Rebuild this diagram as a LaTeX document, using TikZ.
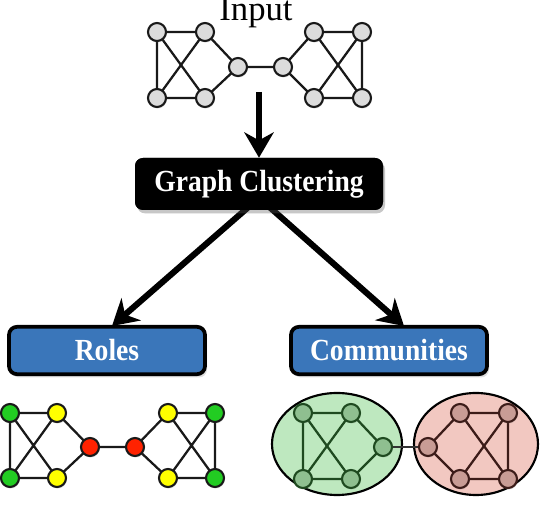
\documentclass[tikz,border=0pt]{standalone}
\usepackage{fontspec}
\setmainfont{Liberation Serif}
\newfontfamily\labelfont[FakeStretch=0.9]{Liberation Serif}
\usetikzlibrary{arrows.meta,shadows,shapes.geometric}
\definecolor{boxblue}{HTML}{3A76BA}
\definecolor{ingray}{HTML}{DCDCDC}
\definecolor{rgreen}{HTML}{22CC22}
\definecolor{ryellow}{HTML}{FFFF00}
\definecolor{rred}{HTML}{FF2200}
\definecolor{cgfill}{HTML}{BEE8BF}
\definecolor{cgnode}{HTML}{8FBF90}
\definecolor{cgedge}{HTML}{1F4A20}
\definecolor{crfill}{HTML}{F2C8C1}
\definecolor{crnode}{HTML}{C89C95}
\definecolor{credge}{HTML}{3C1C19}
\tikzset{
  vtx/.style={circle,draw=black!90,line width=1.6pt,minimum size=13.5pt,inner sep=0pt,
    drop shadow={shadow xshift=0.6pt,shadow yshift=-1.2pt,opacity=0.18}},
  gedge/.style={line width=1.7pt,draw=black!90},
  bigbox/.style={rounded corners=6pt,minimum width=186pt,minimum height=39pt,fill=black,
    text=white,font=\labelfont\fontsize{23}{26}\selectfont\bfseries,
    drop shadow={shadow xshift=1.5pt,shadow yshift=-2.5pt,opacity=0.25}},
  bluebox/.style={rounded corners=6pt,minimum width=147pt,minimum height=35.5pt,fill=boxblue,
    draw=black,line width=2.8pt,text=white,font=\labelfont\fontsize{23}{26}\selectfont\bfseries,
    drop shadow={shadow xshift=1.5pt,shadow yshift=-2.5pt,opacity=0.25}},
  bigarrow/.style={line width=4.6pt,-{Stealth[length=19pt,width=22pt,inset=6pt]}},
  cluster/.style={ellipse,draw=black,line width=1.6pt,inner sep=0pt}
}
\begin{document}
\begin{tikzpicture}[x=0.75pt,y=-0.75pt]
\useasboundingbox (0,0) rectangle (544,506);
% Input
\node[anchor=base,font=\fontsize{26}{28}\selectfont] (title) at (256,21) {Input};
\foreach \n/\x/\y in {a/157/32,b/205/32,c/157/98,d/205/98,e/238/67,f/283/67,g/314/32,h/362/32,i/314/98,j/362/98}
  \coordinate (ip\n) at (\x,\y);
\draw[gedge] (ipa)--(ipb) (ipc)--(ipd) (ipa)--(ipc) (ipa)--(ipd) (ipc)--(ipb) (ipb)--(ipe) (ipd)--(ipe) (ipe)--(ipf)
  (ipf)--(ipg) (ipf)--(ipi) (ipg)--(iph) (ipi)--(ipj) (iph)--(ipj) (ipg)--(ipj) (ipi)--(iph);
\foreach \n in {a,b,c,d,e,f,g,h,i,j} \node[vtx,fill=ingray] (in\n) at (ip\n) {};
% main box
\node[bigbox] (gc) at (259,184) {Graph Clustering};
\node[bluebox] (roles) at (107,350.5) {Roles};
\node[bluebox] (comm) at (389,350.5) {Communities};
\coordinate (inbottom) at (259,92);
\draw[bigarrow] (inbottom) -- (gc.north);
\coordinate (gcl) at (252,204);
\coordinate (gcr) at (266,204);
\coordinate (rtip) at (112,326);
\coordinate (ctip) at (404,326);
\draw[bigarrow] (gcl) -- (rtip);
\draw[bigarrow] (gcr) -- (ctip);
\node[bigbox] at (259,184) {Graph Clustering};
% Roles graph
\foreach \n/\x/\y in {a/10/413,b/57/413,c/10/478,d/57/478,e/90/447,f/135/447,g/168/413,h/215/413,i/168/478,j/215/478}
  \coordinate (rp\n) at (\x,\y);
\draw[gedge] (rpa)--(rpb) (rpc)--(rpd) (rpa)--(rpc) (rpa)--(rpd) (rpc)--(rpb) (rpb)--(rpe) (rpd)--(rpe) (rpe)--(rpf)
  (rpf)--(rpg) (rpf)--(rpi) (rpg)--(rph) (rpi)--(rpj) (rph)--(rpj) (rpg)--(rpj) (rpi)--(rph);
\foreach \n/\c in {a/rgreen,c/rgreen,h/rgreen,j/rgreen,b/ryellow,d/ryellow,g/ryellow,i/ryellow,e/rred,f/rred}
  \node[vtx,fill=\c] (rn\n) at (rp\n) {};
% Communities graph
\node[cluster,fill=cgfill,minimum width=97.5pt,minimum height=76.5pt] (green) at (337,444) {};
\node[cluster,fill=crfill,minimum width=93pt,minimum height=76.5pt] (red) at (476,444) {};
\foreach \n/\x/\y in {a/303/413,b/351/413,c/303/479,d/351/479,e/383/447,f/428/447,g/460/413,h/508/413,i/460/479,j/508/479}
  \coordinate (cp\n) at (\x,\y);
\draw[gedge,draw=cgedge] (cpa)--(cpb) (cpc)--(cpd) (cpa)--(cpc) (cpa)--(cpd) (cpc)--(cpb) (cpb)--(cpe) (cpd)--(cpe);
\draw[gedge,draw=black!80] (cpe)--(cpf);
\draw[gedge,draw=credge] (cpf)--(cpg) (cpf)--(cpi) (cpg)--(cph) (cpi)--(cpj) (cph)--(cpj) (cpg)--(cpj) (cpi)--(cph);
\foreach \n in {a,b,c,d,e} \node[vtx,fill=cgnode,draw=cgedge] (cn\n) at (cp\n) {};
\foreach \n in {f,g,h,i,j} \node[vtx,fill=crnode,draw=credge] (cn\n) at (cp\n) {};
\end{tikzpicture}
\end{document}
